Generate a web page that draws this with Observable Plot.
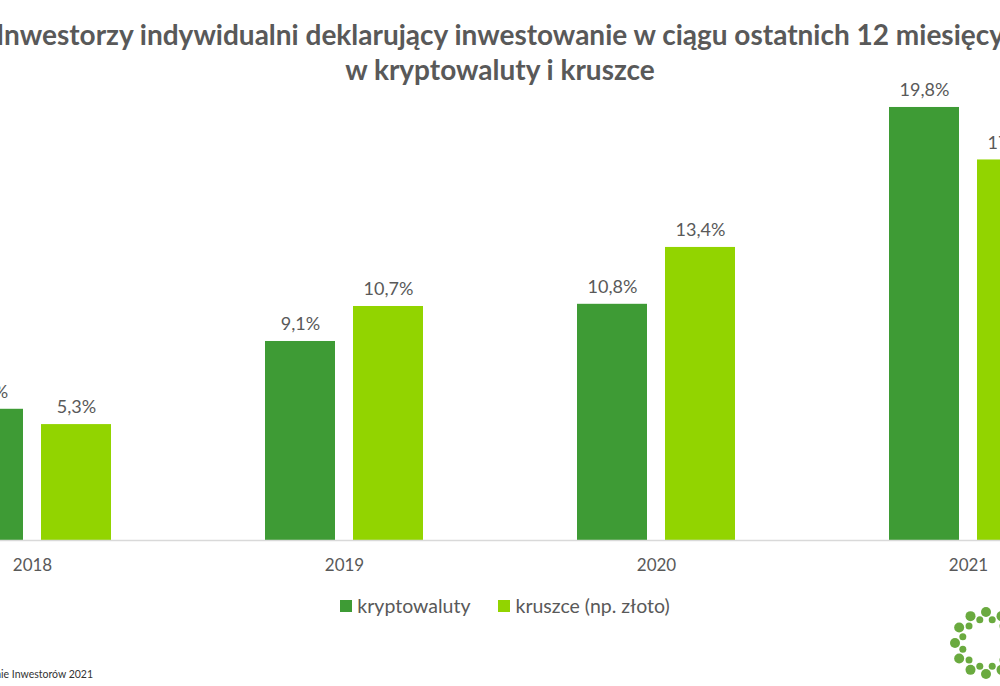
<!DOCTYPE html>
<html lang="pl">
<head>
<meta charset="utf-8">
<script src="https://cdn.jsdelivr.net/npm/d3@7"></script>
<script src="https://cdn.jsdelivr.net/npm/@observablehq/plot@0.6"></script>
<style>
  html, body { margin: 0; padding: 0; background: #fff; }
  body { width: 1000px; height: 686px; position: relative; overflow: hidden; font-family: Lato, "Open Sans", sans-serif; }
  #title { position: absolute; top: 17px; left: -150px; width: 1300px; text-align: center;
           font-weight: 700; font-size: 28px; line-height: 35px; color: #595959; white-space: nowrap; }
  #chart { position: absolute; top: 90px; left: -150px; width: 1300px; }
  #chart svg { max-width: none; }
  #legend { position: absolute; top: 594px; left: 0; width: 1010px; display: flex; justify-content: center;
            gap: 28px; font-size: 19.5px; line-height: 24px; color: #595959; }
  #legend .item { display: flex; align-items: center; gap: 5px; }
  #legend .sw { width: 12px; height: 12px; display: inline-block; }
  #source { position: absolute; right: 907px; top: 668px; font-size: 10.5px; color: #333; white-space: nowrap; }
  #logo { position: absolute; left: 940px; top: 600px; }
</style>
</head>
<body>
<div id="title">Inwestorzy indywidualni deklarujący inwestowanie w ciągu ostatnich 12 miesięcy<br>w kryptowaluty i kruszce</div>
<div id="chart"></div>
<div id="legend"></div>
<div id="source">Źródło: Ogólnopolskie Badanie Inwestorów 2021</div>
<svg id="logo" width="100" height="90"></svg>
<script>
// Survey years and the two asset groups
const years = ["2018", "2019", "2020", "2021"];
const series = ["kryptowaluty", "kruszce (np. złoto)"];
const colors = ["#3e9b35", "#92d400"];

// Share of respondents (%) per year
const kryptowaluty = [6.0, 9.1, 10.8, 19.8];
const kruszce = [5.3, 10.7, 13.4, 17.4];

const rows = years.flatMap((year, i) => [
  {year, series: series[0], value: kryptowaluty[i]},
  {year, series: series[1], value: kruszce[i]}
]);

const fmt = v => v.toFixed(1).replace(".", ",") + "%";

const chart = Plot.plot({
  width: 1300,
  height: 490,
  marginLeft: 26,
  marginRight: 26,
  marginTop: 12.6,
  marginBottom: 40,
  style: {fontFamily: "Lato, 'Open Sans', sans-serif", color: "#595959", background: "transparent", overflow: "visible", maxWidth: "none"},
  fx: {domain: years, padding: 0, label: null},
  x: {domain: series, paddingInner: 0.2022, paddingOuter: 0.854, axis: null},
  y: {domain: [0, 20], axis: null},
  color: {domain: series, range: colors},
  marks: [
    Plot.barY(rows, {fx: "year", x: "series", y: "value", fill: "series"}),
    Plot.ruleY([0], {stroke: "#d9d9d9", strokeWidth: 1.5}),
    Plot.text(rows, {fx: "year", x: "series", y: "value", text: d => fmt(d.value), dy: -17, fontSize: 18, fill: "#595959"}),
    Plot.axisFx({anchor: "bottom", tickSize: 0, tickPadding: 18, fontSize: 17, label: null})
  ]
});
document.getElementById("chart").append(chart);

// Legend
const legend = document.getElementById("legend");
series.forEach((s, i) => {
  const item = document.createElement("div");
  item.className = "item";
  const sw = document.createElement("span");
  sw.className = "sw";
  sw.style.background = colors[i];
  const label = document.createElement("span");
  label.textContent = s;
  item.append(sw, label);
  legend.append(item);
});

// Publisher emblem: a ring of dots
const logo = d3.select("#logo");
const cx = 46, cy = 43, r = 31;
for (let k = 0; k < 24; k++) {
  const a = (k / 24) * 2 * Math.PI;
  const rr = k % 2 ? r - 7 : r;
  logo.append("circle")
    .attr("cx", cx + rr * Math.cos(a))
    .attr("cy", cy + rr * Math.sin(a))
    .attr("r", k % 2 ? 3.5 : 5)
    .attr("fill", "#6aaa3f");
}
</script>
</body>
</html>
